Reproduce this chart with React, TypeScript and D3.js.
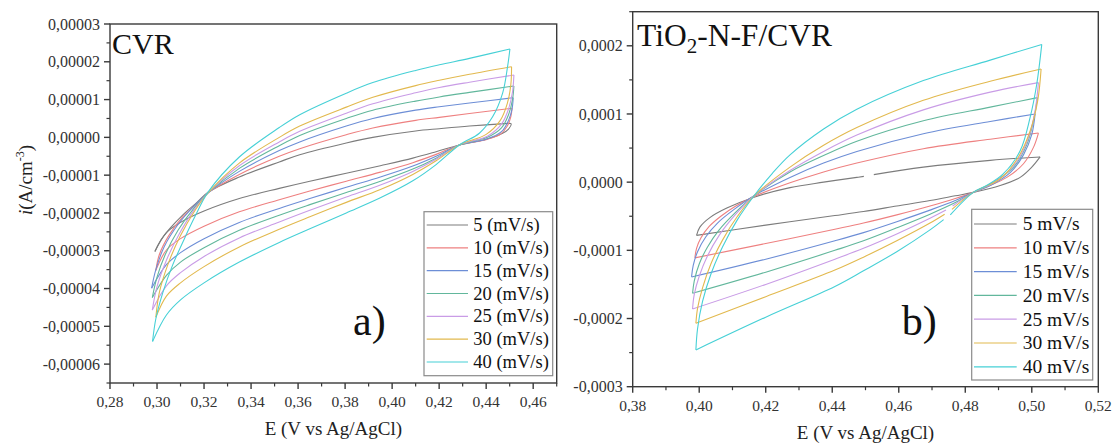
import React from "react";
import * as d3 from "d3";

type Pt = [number, number] | null;

const FONT = "'Liberation Serif', 'Times New Roman', Times, serif";

// ---------- Panel a) CVR : E (V), i in units of 1e-5 A/cm3 ----------
const ratesA = ["5 (mV/s)", "10 (mV/s)", "15 (mV/s)", "20 (mV/s)", "25 (mV/s)", "30 (mV/s)", "40 (mV/s)"];
const xTicksA = [0.28, 0.3, 0.32, 0.34, 0.36, 0.38, 0.4, 0.42, 0.44, 0.46];
const xMinorA = [0.29, 0.31, 0.33, 0.35, 0.37, 0.39, 0.41, 0.43, 0.45, 0.47];
const yTicksA = [-6, -5, -4, -3, -2, -1, 0, 1, 2, 3];
const yMinorA = [-6.5, -5.5, -4.5, -3.5, -2.5, -1.5, -0.5, 0.5, 1.5, 2.5];

const cvr5: Pt[][] = [
  [[0.2991, -3.02], [0.3012, -2.76], [0.3055, -2.41], [0.311, -2.05], [0.317, -1.72], [0.3217, -1.45], [0.335, -1.05], [0.352, -0.65], [0.3607, -0.46], [0.3805, -0.15], [0.3918, 0.0], [0.41, 0.17], [0.4201, 0.23], [0.4329, 0.3], [0.4495, 0.37]],
  [[0.4495, 0.37], [0.4506, 0.36], [0.4495, 0.22], [0.447, 0.11], [0.44, -0.05], [0.4286, -0.2], [0.4187, -0.38], [0.4088, -0.55], [0.395, -0.75], [0.3805, -0.95], [0.365, -1.16], [0.352, -1.35], [0.335, -1.62], [0.32, -1.95], [0.31, -2.25], [0.304, -2.52], [0.2991, -3.02]],
];
const cvr10: Pt[][] = [
  [[0.2995, -3.52], [0.301, -3.1], [0.305, -2.6], [0.311, -2.1], [0.317, -1.75], [0.3217, -1.47], [0.335, -0.98], [0.352, -0.5], [0.3607, -0.3], [0.3805, 0.07], [0.3918, 0.25], [0.41, 0.45], [0.4201, 0.53], [0.4329, 0.63], [0.451, 0.77]],
  [[0.451, 0.77], [0.4505, 0.55], [0.449, 0.3], [0.446, 0.08], [0.44, -0.06], [0.4286, -0.2], [0.4187, -0.45], [0.4088, -0.67], [0.395, -0.92], [0.3805, -1.16], [0.365, -1.42], [0.352, -1.65], [0.335, -1.97], [0.32, -2.35], [0.31, -2.68], [0.304, -2.98], [0.2995, -3.52]],
];
const cvr15: Pt[][] = [
  [[0.2977, -3.99], [0.2995, -3.5], [0.303, -2.9], [0.309, -2.3], [0.316, -1.8], [0.3217, -1.47], [0.335, -0.9], [0.352, -0.35], [0.3607, -0.12], [0.3805, 0.3], [0.3918, 0.5], [0.41, 0.72], [0.4201, 0.81], [0.4329, 0.91], [0.4515, 1.05]],
  [[0.4515, 1.05], [0.451, 0.75], [0.4495, 0.45], [0.4465, 0.15], [0.44, -0.05], [0.4286, -0.2], [0.4187, -0.5], [0.4088, -0.76], [0.395, -1.05], [0.3805, -1.32], [0.365, -1.62], [0.352, -1.88], [0.335, -2.25], [0.32, -2.68], [0.31, -3.05], [0.304, -3.37], [0.2977, -3.99]],
];
const cvr20: Pt[][] = [
  [[0.298, -4.24], [0.3, -3.7], [0.3035, -3.1], [0.309, -2.45], [0.316, -1.85], [0.3217, -1.47], [0.335, -0.82], [0.352, -0.22], [0.3607, 0.05], [0.3805, 0.5], [0.3918, 0.72], [0.41, 0.96], [0.4201, 1.07], [0.4329, 1.19], [0.4518, 1.36]],
  [[0.4518, 1.36], [0.4512, 1.0], [0.4495, 0.6], [0.4465, 0.25], [0.4405, 0.0], [0.4286, -0.2], [0.4187, -0.55], [0.4088, -0.84], [0.395, -1.16], [0.3805, -1.46], [0.365, -1.78], [0.352, -2.06], [0.335, -2.46], [0.32, -2.92], [0.31, -3.3], [0.304, -3.65], [0.298, -4.24]],
];
const cvr25: Pt[][] = [
  [[0.298, -4.57], [0.3, -3.95], [0.304, -3.25], [0.3095, -2.55], [0.316, -1.9], [0.3217, -1.47], [0.335, -0.75], [0.352, -0.12], [0.3607, 0.16], [0.3805, 0.64], [0.3918, 0.89], [0.41, 1.18], [0.4201, 1.32], [0.4329, 1.46], [0.4518, 1.65]],
  [[0.4518, 1.65], [0.4512, 1.2], [0.4495, 0.75], [0.4465, 0.35], [0.4405, 0.03], [0.4286, -0.2], [0.4187, -0.58], [0.4088, -0.9], [0.395, -1.26], [0.3805, -1.58], [0.365, -1.93], [0.352, -2.24], [0.335, -2.66], [0.32, -3.15], [0.31, -3.58], [0.304, -3.93], [0.298, -4.57]],
];
const cvr30: Pt[][] = [
  [[0.2995, -4.76], [0.301, -4.1], [0.305, -3.3], [0.31, -2.6], [0.316, -1.95], [0.3217, -1.47], [0.335, -0.68], [0.352, 0.0], [0.3607, 0.3], [0.3805, 0.8], [0.3918, 1.06], [0.41, 1.37], [0.4201, 1.51], [0.4329, 1.67], [0.4508, 1.87]],
  [[0.4508, 1.87], [0.4505, 1.4], [0.449, 0.9], [0.446, 0.45], [0.44, 0.08], [0.4286, -0.2], [0.4187, -0.62], [0.4088, -0.98], [0.395, -1.38], [0.3805, -1.72], [0.365, -2.1], [0.352, -2.43], [0.335, -2.9], [0.32, -3.42], [0.31, -3.85], [0.304, -4.2], [0.2995, -4.76]],
];
const cvr40: Pt[][] = [
  [[0.2981, -5.4], [0.2995, -4.8], [0.3025, -4.1], [0.3065, -3.4], [0.3115, -2.7], [0.3165, -2.05], [0.3217, -1.45], [0.335, -0.52], [0.352, 0.26], [0.3607, 0.6], [0.3805, 1.17], [0.3918, 1.45], [0.41, 1.77], [0.4201, 1.92], [0.4329, 2.09], [0.4501, 2.34]],
  [[0.4501, 2.34], [0.4491, 1.87], [0.447, 1.17], [0.4428, 0.55], [0.4371, 0.11], [0.4286, -0.2], [0.4187, -0.72], [0.4088, -1.15], [0.395, -1.6], [0.3805, -2.0], [0.365, -2.42], [0.352, -2.78], [0.335, -3.3], [0.32, -3.85], [0.31, -4.3], [0.304, -4.7], [0.2981, -5.4]],
];

// ---------- Panel b) TiO2-N-F/CVR : E (V), i in units of 1e-4 A/cm3 ----------
const ratesB = ["5 mV/s", "10 mV/s", "15 mV/s", "20 mV/s", "25 mV/s", "30 mV/s", "40 mV/s"];
const xTicksB = [0.38, 0.4, 0.42, 0.44, 0.46, 0.48, 0.5, 0.52];
const xMinorB = [0.39, 0.41, 0.43, 0.45, 0.47, 0.49, 0.51];
const yTicksB = [-3, -2, -1, 0, 1, 2];
const yMinorB = [-2.5, -1.5, -0.5, 0.5, 1.5, 2.5];

const tio5: Pt[][] = [
  [[0.3992, -0.78], [0.4002, -0.66], [0.4032, -0.52], [0.4083, -0.38], [0.4165, -0.22], [0.4273, -0.08], [0.4374, 0.0], [0.4474, 0.07], [0.4495, 0.085], null, [0.4525, 0.11], [0.4674, 0.22], [0.4875, 0.32], [0.5025, 0.37]],
  [[0.5025, 0.37], [0.5, 0.22], [0.4965, 0.07], [0.4905, -0.05], [0.4824, -0.15], [0.477, -0.2], [0.4694, -0.27], [0.4594, -0.35], [0.4494, -0.43], [0.4408, -0.49], [0.42, -0.63], [0.3992, -0.78]],
];
const tio10: Pt[][] = [
  [[0.3987, -1.11], [0.3992, -0.97], [0.4005, -0.82], [0.403, -0.65], [0.4065, -0.5], [0.411, -0.35], [0.4165, -0.21], [0.4273, -0.01], [0.4374, 0.15], [0.4474, 0.28], [0.4674, 0.49], [0.4875, 0.63], [0.502, 0.72]],
  [[0.502, 0.72], [0.5005, 0.51], [0.4975, 0.27], [0.4925, 0.07], [0.4864, -0.07], [0.4824, -0.15], [0.477, -0.24], [0.4694, -0.35], [0.4594, -0.48], [0.4494, -0.6], [0.4408, -0.69], [0.42, -0.9], [0.3987, -1.11]],
];
const tio15: Pt[][] = [
  [[0.3977, -1.39], [0.3982, -1.22], [0.3995, -1.02], [0.402, -0.8], [0.4055, -0.6], [0.4105, -0.4], [0.4165, -0.2], [0.4273, 0.07], [0.4374, 0.28], [0.4474, 0.45], [0.4674, 0.71], [0.4875, 0.89], [0.501, 1.0]],
  [[0.501, 1.0], [0.5, 0.7], [0.4975, 0.4], [0.4935, 0.14], [0.4875, -0.05], [0.4824, -0.15], [0.477, -0.27], [0.4694, -0.41], [0.4594, -0.58], [0.4494, -0.74], [0.4408, -0.86], [0.42, -1.13], [0.3977, -1.39]],
];
const tio20: Pt[][] = [
  [[0.398, -1.63], [0.3985, -1.45], [0.4, -1.2], [0.4025, -0.95], [0.406, -0.7], [0.411, -0.44], [0.4165, -0.2], [0.4273, 0.15], [0.4374, 0.39], [0.4474, 0.6], [0.4674, 0.9], [0.4875, 1.1], [0.5017, 1.24]],
  [[0.5017, 1.24], [0.5005, 0.9], [0.4985, 0.55], [0.4945, 0.22], [0.4885, 0.0], [0.4824, -0.15], [0.477, -0.3], [0.4694, -0.47], [0.4594, -0.67], [0.4494, -0.86], [0.4408, -1.0], [0.42, -1.32], [0.398, -1.63]],
];
const tio25: Pt[][] = [
  [[0.398, -1.86], [0.3985, -1.65], [0.4, -1.38], [0.4025, -1.08], [0.406, -0.78], [0.411, -0.47], [0.4165, -0.2], [0.4273, 0.17], [0.4374, 0.45], [0.4474, 0.69], [0.4674, 1.06], [0.4875, 1.32], [0.502, 1.46]],
  [[0.502, 1.46], [0.501, 1.05], [0.499, 0.65], [0.4955, 0.3], [0.4895, 0.02], [0.4824, -0.15], [0.4762, -0.35], null, [0.4742, -0.41], [0.4694, -0.53], [0.4594, -0.76], [0.4494, -0.97], [0.4408, -1.13], [0.42, -1.5], [0.398, -1.86]],
];
const tio30: Pt[][] = [
  [[0.399, -2.07], [0.3995, -1.85], [0.401, -1.55], [0.4035, -1.2], [0.407, -0.85], [0.4115, -0.5], [0.4165, -0.2], [0.4273, 0.22], [0.4374, 0.54], [0.4474, 0.8], [0.4674, 1.2], [0.4875, 1.48], [0.5028, 1.66]],
  [[0.5028, 1.66], [0.5018, 1.2], [0.4995, 0.75], [0.496, 0.37], [0.4905, 0.05], [0.4824, -0.15], [0.476, -0.4], null, [0.4738, -0.47], [0.4694, -0.6], [0.4594, -0.86], [0.4494, -1.1], [0.4408, -1.29], [0.42, -1.68], [0.399, -2.07]],
];
const tio40: Pt[][] = [
  [[0.399, -2.46], [0.3995, -2.15], [0.401, -1.75], [0.4035, -1.35], [0.407, -0.95], [0.4115, -0.55], [0.4165, -0.2], [0.422, 0.13], [0.4273, 0.4], [0.4374, 0.78], [0.4474, 1.07], [0.4674, 1.49], [0.4875, 1.79], [0.503, 2.02]],
  [[0.503, 2.02], [0.5015, 1.44], [0.4995, 0.95], [0.4965, 0.46], [0.4914, 0.12], [0.4864, -0.05], [0.4824, -0.15], [0.4755, -0.48], null, [0.4735, -0.55], [0.4694, -0.7], [0.4594, -1.02], [0.4494, -1.3], [0.4408, -1.53], [0.42, -1.98], [0.399, -2.46]],
];

const seriesColors = ["#7c7c7c", "#ee8080", "#6d8ed6", "#62b79c", "#c99ce6", "#e2b94e", "#46d0d6"];

type PanelCfg = {
  left: number; right: number; top: number; bottom: number;
  xDomain: [number, number]; yDomain: [number, number];
  xTicks: number[]; xMinor: number[]; yTicks: number[]; yMinor: number[];
  yFactor: number; yDigits: number;
  series: Pt[][][]; labels: string[];
  legend: { x: number; y: number; w: number; h: number; row0: number; dy: number; l1: number; l2: number; tx: number; fs: number };
  tag: string; tagX: number; tagY: number;
};

const panelA: PanelCfg = {
  left: 110, right: 556.7, top: 24, bottom: 383,
  xDomain: [0.28, 0.47], yDomain: [-6.5, 3],
  xTicks: xTicksA, xMinor: xMinorA, yTicks: yTicksA, yMinor: yMinorA,
  yFactor: 1e-5, yDigits: 5,
  series: [cvr5, cvr10, cvr15, cvr20, cvr25, cvr30, cvr40], labels: ratesA,
  legend: { x: 424, y: 211.7, w: 128.7, h: 164, row0: 225, dy: 22.83, l1: 426.7, l2: 468, tx: 473.3, fs: 18.5 },
  tag: "a)", tagX: 353, tagY: 335,
};

const panelB: PanelCfg = {
  left: 632.7, right: 1098.3, top: 11.7, bottom: 386.7,
  xDomain: [0.38, 0.52], yDomain: [-3, 2.5],
  xTicks: xTicksB, xMinor: xMinorB, yTicks: yTicksB, yMinor: yMinorB,
  yFactor: 1e-4, yDigits: 4,
  series: [tio5, tio10, tio15, tio20, tio25, tio30, tio40], labels: ratesB,
  legend: { x: 971.7, y: 209.3, w: 121, h: 170.7, row0: 224, dy: 23.8, l1: 974, l2: 1016.7, tx: 1022.7, fs: 19.5 },
  tag: "b)", tagX: 901.7, tagY: 335,
};

const fmtComma = (v: number, d: number) => v.toFixed(d).replace(".", ",");

function Panel({ cfg }: { cfg: PanelCfg }) {
  const x = d3.scaleLinear().domain(cfg.xDomain).range([cfg.left, cfg.right]);
  const y = d3.scaleLinear().domain(cfg.yDomain).range([cfg.bottom, cfg.top]);
  const line = d3
    .line<Pt>()
    .defined((d) => d !== null)
    .x((d) => x((d as [number, number])[0]))
    .y((d) => y((d as [number, number])[1]))
    .curve(d3.curveCatmullRom.alpha(0.5));
  const axisColor = "#3a3a3a";
  const lg = cfg.legend;
  return (
    <g>
      {cfg.series.map((s, i) => (
        <g key={i}>
          {s.map((seg, j) => (
            <path key={j} d={line(seg) || ""} fill="none" stroke={seriesColors[i]} strokeWidth={1.1} strokeLinejoin="round" />
          ))}
        </g>
      ))}
      <rect x={cfg.left} y={cfg.top} width={cfg.right - cfg.left} height={cfg.bottom - cfg.top} fill="none" stroke={axisColor} strokeWidth={1.4} />
      {cfg.xTicks.map((t) => (
        <g key={"xt" + t}>
          <line x1={x(t)} x2={x(t)} y1={cfg.bottom} y2={cfg.bottom + 6} stroke={axisColor} strokeWidth={1.4} />
          <text x={x(t)} y={cfg.bottom + 24} fontSize={15.5} fill="#333" textAnchor="middle">
            {fmtComma(t, 2)}
          </text>
        </g>
      ))}
      {cfg.xMinor.map((t) => (
        <line key={"xm" + t} x1={x(t)} x2={x(t)} y1={cfg.bottom} y2={cfg.bottom + 3.5} stroke={axisColor} strokeWidth={1.2} />
      ))}
      {cfg.yTicks.map((t) => (
        <g key={"yt" + t}>
          <line x1={cfg.left - 6} x2={cfg.left} y1={y(t)} y2={y(t)} stroke={axisColor} strokeWidth={1.4} />
          <text x={cfg.left - 10} y={y(t)} dy="0.35em" fontSize={16} fill="#333" textAnchor="end">
            {fmtComma(t * cfg.yFactor, cfg.yDigits)}
          </text>
        </g>
      ))}
      {cfg.yMinor.map((t) => (
        <line key={"ym" + t} x1={cfg.left - 3.5} x2={cfg.left} y1={y(t)} y2={y(t)} stroke={axisColor} strokeWidth={1.2} />
      ))}
      <text x={(cfg.left + cfg.right) / 2} y={cfg.bottom + 52} fontSize={19} fill="#222" textAnchor="middle">
        E (V vs Ag/AgCl)
      </text>
      <rect x={lg.x} y={lg.y} width={lg.w} height={lg.h} fill="#fff" stroke="#8a8a8a" strokeWidth={1.2} />
      {cfg.labels.map((lab, i) => (
        <g key={lab}>
          <line x1={lg.l1} x2={lg.l2} y1={lg.row0 + i * lg.dy} y2={lg.row0 + i * lg.dy} stroke={seriesColors[i]} strokeWidth={1.2} />
          <text x={lg.tx} y={lg.row0 + i * lg.dy} dy="0.33em" fontSize={lg.fs} fill="#111">
            {lab}
          </text>
        </g>
      ))}
      <text x={cfg.tagX} y={cfg.tagY} fontSize={42} fill="#111">
        {cfg.tag}
      </text>
    </g>
  );
}

export default function App() {
  return (
    <svg
      width={1114}
      height={444}
      viewBox="0 0 1114 444"
      style={{ position: "absolute", left: 0, top: 0, background: "#fff", fontFamily: FONT }}
    >
      <rect x={0} y={0} width={1114} height={444} fill="#fff" />
      <Panel cfg={panelA} />
      <Panel cfg={panelB} />
      <text x={112} y={54} fontSize={30} fill="#111">CVR</text>
      <text x={637} y={46} fontSize={31.5} fill="#111">
        <tspan>TiO</tspan>
        <tspan fontSize={21} dy={7}>2</tspan>
        <tspan dy={-7}>-N-F/CVR</tspan>
      </text>
      <text transform="translate(32,180) rotate(-90)" fontSize={19} fill="#222" textAnchor="middle">
        <tspan fontStyle="italic">i</tspan>
        <tspan>(A/cm</tspan>
        <tspan fontSize={12} dy={-8}>-3</tspan>
        <tspan dy={8}>)</tspan>
      </text>
    </svg>
  );
}
